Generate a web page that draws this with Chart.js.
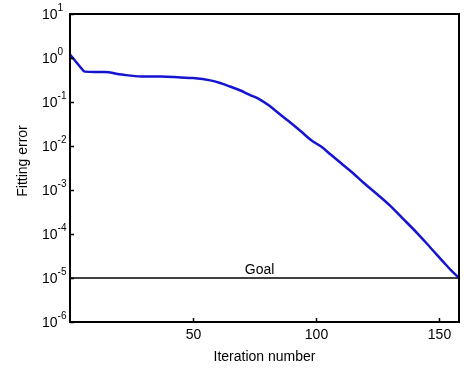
<!DOCTYPE html>
<html>
<head>
<meta charset="utf-8">
<script src="https://cdn.jsdelivr.net/npm/chart.js@4.4.1/dist/chart.umd.min.js"></script>
<style>
  html, body { margin: 0; padding: 0; background: #fff; }
  #wrap { width: 469px; height: 371px; }
</style>
</head>
<body>
<div id="wrap"><canvas id="grafico"></canvas></div>
<script>
// datos
const iteraciones = [0, 2, 4, 6, 10, 14, 21, 29, 37, 45, 50, 57, 61, 65, 69, 73, 77, 81, 85, 89, 94, 98, 102, 106, 110, 115, 119, 125, 130, 135, 141, 146, 152, 155, 158];
const errores = [1.2, 0.88, 0.64, 0.49, 0.48, 0.48, 0.42, 0.38, 0.38, 0.36, 0.35, 0.31, 0.27, 0.225, 0.185, 0.145, 0.115, 0.082, 0.054, 0.036, 0.021, 0.0135, 0.0097, 0.0063, 0.0041, 0.0024, 0.0015, 0.00078, 0.00044, 0.00023, 0.000105, 0.000052, 0.000022, 0.0000145, 0.00001];
const meta = 1e-5;
const metaTexto = 'Goal';
const metaXTexto = 77;
const ticksX = [50, 100, 150];
const exponentesY = [1, 0, -1, -2, -3, -4, -5, -6];
const tituloX = 'Iteration number';
const tituloY = 'Fitting error';

const FUENTE = '"Liberation Sans", Arial, sans-serif';

// ejes, marcas y textos dibujados con las escalas de Chart.js
const ejesPlugin = {
  id: 'ejes',
  afterDraw(chart) {
    const ctx = chart.ctx;
    const area = chart.chartArea;
    const sx = chart.scales.x;
    const sy = chart.scales.y;
    ctx.save();
    ctx.strokeStyle = '#000';
    ctx.lineWidth = 2;
    ctx.strokeRect(area.left, area.top, area.right - area.left, area.bottom - area.top);

    // marcas del eje x (hacia dentro)
    ctx.lineWidth = 1.5;
    ctx.fillStyle = '#000';
    ctx.font = '14px ' + FUENTE;
    ctx.textAlign = 'center';
    ctx.textBaseline = 'middle';
    ticksX.forEach(v => {
      const px = Math.round(sx.getPixelForValue(v)) + 0.5;
      ctx.beginPath();
      ctx.moveTo(px, area.bottom);
      ctx.lineTo(px, area.bottom - 4);
      ctx.stroke();
      ctx.fillText(String(v), px, area.bottom + 13);
    });

    // marcas del eje y
    exponentesY.forEach(e => {
      const py = Math.round(sy.getPixelForValue(Math.pow(10, e))) + 0.5;
      ctx.beginPath();
      ctx.moveTo(area.left, py);
      ctx.lineTo(area.left + 4, py);
      ctx.stroke();
      ctx.textAlign = 'left';
      ctx.textBaseline = 'middle';
      ctx.font = '14px ' + FUENTE;
      ctx.fillText('10', 42, py + 1);
      const w = ctx.measureText('10').width;
      ctx.font = '10px ' + FUENTE;
      ctx.fillText(String(e), 42 + w, py - 6);
    });

    // titulos
    ctx.font = '14px ' + FUENTE;
    ctx.textAlign = 'center';
    ctx.textBaseline = 'middle';
    ctx.fillText(tituloX, (area.left + area.right) / 2, 357);
    ctx.save();
    ctx.translate(23, 161);
    ctx.rotate(-Math.PI / 2);
    ctx.fillText(tituloY, 0, 0);
    ctx.restore();

    // texto de la meta
    ctx.font = '14px ' + FUENTE;
    ctx.textBaseline = 'alphabetic';
    ctx.fillText(metaTexto, sx.getPixelForValue(metaXTexto), sy.getPixelForValue(meta) - 4);
    ctx.restore();
  }
};

new Chart(document.getElementById('grafico'), {
  type: 'scatter',
  data: {
    datasets: [
      {
        label: 'Error',
        data: iteraciones.map((it, i) => ({ x: it, y: errores[i] })),
        showLine: true,
        borderColor: '#1414d2',
        borderWidth: 2.5,
        pointRadius: 0,
        cubicInterpolationMode: 'monotone'
      },
      {
        label: metaTexto,
        data: [{ x: 0, y: meta }, { x: iteraciones[iteraciones.length - 1], y: meta }],
        showLine: true,
        borderColor: '#000',
        borderWidth: 1.5,
        pointRadius: 0
      }
    ]
  },
  options: {
    responsive: true,
    maintainAspectRatio: false,
    animation: false,
    layout: { padding: { left: 70, right: 10, top: 14, bottom: 49 } },
    plugins: {
      legend: { display: false },
      tooltip: { enabled: false }
    },
    scales: {
      x: {
        type: 'linear',
        min: 0,
        max: 158,
        ticks: { display: false },
        grid: { display: false },
        border: { display: false },
        afterFit(scale) { scale.height = 0; }
      },
      y: {
        type: 'logarithmic',
        min: 1e-6,
        max: 10,
        ticks: { display: false },
        grid: { display: false },
        border: { display: false },
        afterFit(scale) { scale.width = 0; }
      }
    }
  },
  plugins: [ejesPlugin]
});
</script>
</body>
</html>
